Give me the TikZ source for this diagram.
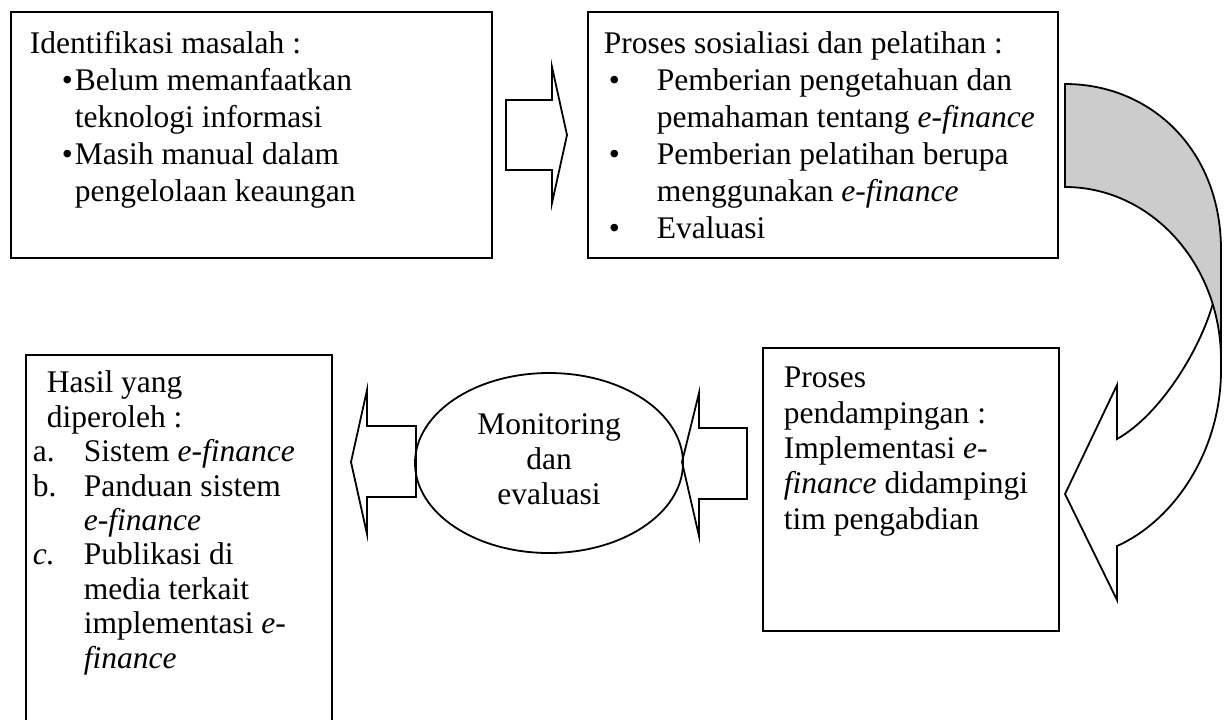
\documentclass[tikz,border=0pt]{standalone}
\usepackage{fontspec}
\setmainfont{Liberation Serif}
\usetikzlibrary{shapes.geometric}
\newcommand{\bul}{\textbullet}
\newcommand{\ef}{\textit{e-finance}}

\begin{document}
\begin{tikzpicture}[x=0.5pt,y=-0.5pt,line width=0.9pt,line join=miter,
    box/.style={draw, inner sep=0pt, anchor=north west},
    txt/.style={inner sep=0pt, anchor=north west, align=left, font=\fontsize{15.75}{18.5}\selectfont},
    blockarrow/.style={draw, fill=white}]
  \clip (0,0) rectangle (1230,719);

  % kotak
  \node[box, minimum width=240.5pt, minimum height=123pt] (masalah) at (10,11) {};
  \node[box, minimum width=235pt, minimum height=123pt] (sosial) at (587,11) {};
  \node[box, minimum width=153pt, minimum height=200pt] (hasil) at (25,354) {};
  \node[box, minimum width=148pt, minimum height=141.5pt] (damping) at (762,347) {};

  \node[txt] (masalahtxt) at ([shift={(19,16)}]masalah.north west)
    {\strut Identifikasi masalah :\\
     \makebox[22.5pt][l]{\hspace{16pt}\bul}Belum memanfaatkan\\
     \hspace*{22.5pt}teknologi informasi\\
     \makebox[22.5pt][l]{\hspace{16pt}\bul}Masih manual dalam\\
     \hspace*{22.5pt}pengelolaan keaungan};
  \node[txt] (sosialtxt) at ([shift={(16,16)}]sosial.north west)
    {\strut Proses sosialiasi dan pelatihan :\\
     \makebox[26.5pt][l]{\hspace{2.5pt}\bul}Pemberian pengetahuan dan\\
     \hspace*{26.5pt}pemahaman tentang \ef\\
     \makebox[26.5pt][l]{\hspace{2.5pt}\bul}Pemberian pelatihan berupa\\
     \hspace*{26.5pt}menggunakan \ef\\
     \makebox[26.5pt][l]{\hspace{2.5pt}\bul}Evaluasi};
  \node[txt, font=\fontsize{15.75}{17.2}\selectfont] (hasiltxt) at ([shift={(7,14)}]hasil.north west)
    {\strut\hspace*{7pt}Hasil yang\\
     \hspace*{7pt}diperoleh :\\
     \makebox[25.5pt][l]{a.}Sistem \ef\\
     \makebox[25.5pt][l]{b.}Panduan sistem\\
     \hspace*{25.5pt}\ef\\
     \makebox[25.5pt][l]{\textit{c.}}Publikasi di\\
     \hspace*{25.5pt}media terkait\\
     \hspace*{25.5pt}implementasi \textit{e-}\\
     \hspace*{25.5pt}\textit{finance}};
  \node[txt, font=\fontsize{15.75}{17.7}\selectfont] (dampingtxt) at ([shift={(21,15)}]damping.north west)
    {\strut Proses\\
     pendampingan :\\
     Implementasi \textit{e-}\\
     \textit{finance} didampingi\\
     tim pengabdian};

  % panah blok
  \draw[blockarrow] (506,100) -- (552,100) -- (552,67) -- (567,135) -- (552,203) -- (552,170) -- (506,170) -- cycle;
  \draw[blockarrow] (416,426) -- (367,426) -- (367,390) -- (351,462) -- (367,534) -- (367,497) -- (416,497) -- cycle;
  \draw[blockarrow] (747,428) -- (699,428) -- (699,393) -- (682,462) -- (699,536) -- (699,499) -- (747,499) -- cycle;

  % panah lengkung
  \draw[fill=white] (1117,439) .. controls (1160,415) and (1200,350) .. (1213,303) -- (1221,300) -- (1221,370)
    .. controls (1221,450) and (1175,520) .. (1117,546) -- (1117,600) -- (1065,494) -- (1117,385) -- cycle;
  \draw[fill=black!20] (1065,84) .. controls (1151,84) and (1221,150) .. (1221,250) -- (1221,360)
    .. controls (1221,264) and (1151,187) .. (1065,187) -- cycle;

  \node[draw, ellipse, inner sep=0pt, minimum width=134pt, minimum height=90pt] (monev) at (549,463) {};
  \node[font=\fontsize{15.75}{17.5}\selectfont, align=center, inner sep=0pt] (monevtxt) at ([yshift=2pt]monev) {Monitoring\\dan\\evaluasi};
\end{tikzpicture}
\end{document}
